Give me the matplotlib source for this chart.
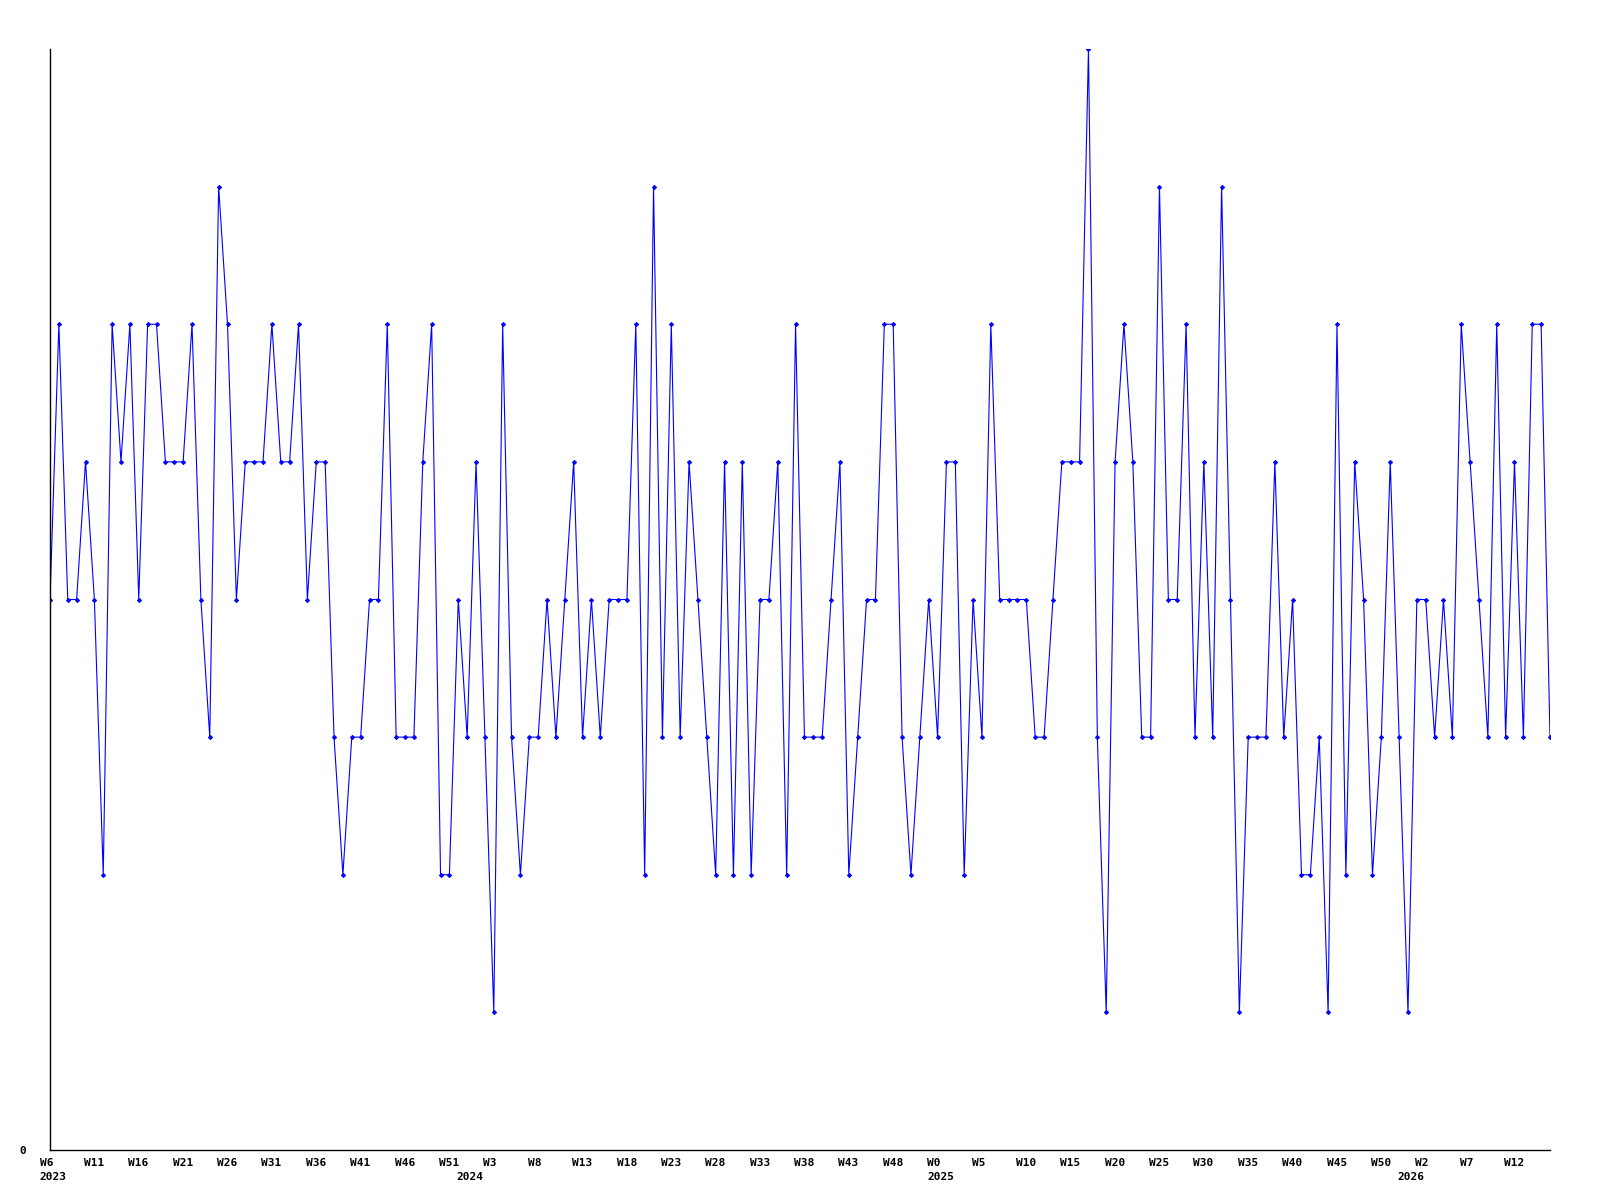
import matplotlib
matplotlib.use("Agg")
import matplotlib.pyplot as plt

# weekly values, W6 2023 .. W15 2026
values = [4, 6, 4, 4, 5, 4, 2, 6, 5, 6, 4, 6, 6, 5, 5, 5, 6, 4, 3, 7,
          6, 4, 5, 5, 5, 6, 5, 5, 6, 4, 5,
          5, 3, 2, 3, 3, 4, 4, 6, 3, 3, 3, 5, 6, 2, 2, 4, 3, 5, 3, 1,
          6, 3, 2, 3, 3, 4, 3, 4, 5, 3, 4, 3,
          4, 4, 4, 6, 2, 7, 3, 6, 3, 5, 4, 3, 2, 5, 2, 5, 2, 4, 4, 5,
          2, 6, 3, 3, 3, 4, 5, 2, 3, 4, 4,
          6, 6, 3, 2, 3, 4, 3, 5, 5, 2, 4, 3, 6, 4, 4, 4, 4, 3, 3, 4,
          5, 5, 5, 8, 3, 1, 5, 6, 5, 3, 3,
          7, 4, 4, 6, 3, 5, 3, 7, 4, 1, 3, 3, 3, 5, 3, 4, 2, 2, 3, 1,
          6, 2, 5, 4, 2, 3, 5, 3, 1, 4, 4, 3,
          4, 3, 6, 5, 4, 3, 6, 3, 5, 3, 6, 6, 3]

week_labels = ["W6", "W11", "W16", "W21", "W26", "W31", "W36", "W41", "W46",
               "W51", "W3", "W8", "W13", "W18", "W23", "W28", "W33", "W38",
               "W43", "W48", "W0", "W5", "W10", "W15", "W20", "W25", "W30",
               "W35", "W40", "W45", "W50", "W2", "W7", "W12"]
week_step = 5

years = ["2023", "2024", "2025", "2026"]
year_pos = [0, 47, 100, 153]

x = list(range(len(values)))

fig = plt.figure(figsize=(16, 12), dpi=100)
ax = fig.add_axes([50 / 1600, 50 / 1200, 1500 / 1600, 1101 / 1200])

ax.plot(x, values, color="#0000ff", linewidth=0.8, marker="D",
        markersize=2.2, markeredgewidth=0.6)

ax.set_xlim(0, len(values) - 1)
ax.set_ylim(0, 8)
ax.spines["top"].set_visible(False)
ax.spines["right"].set_visible(False)
ax.spines["left"].set_linewidth(1)
ax.spines["bottom"].set_linewidth(1)

font = dict(family="DejaVu Sans Mono", fontweight="bold", fontsize=8)

ax.set_yticks([0])
ax.set_yticklabels(["0"], **font)
ax.tick_params(axis="y", length=0, pad=17)
ax.set_xticks([])

for k, lab in enumerate(week_labels):
    ax.annotate(lab, xy=(k * week_step, 0), xycoords=("data", "axes fraction"),
                xytext=(-7.5, -9), textcoords="offset points",
                ha="left", va="center", **font)

for yr, p in zip(years, year_pos):
    ax.annotate(yr, xy=(p, 0), xycoords=("data", "axes fraction"),
                xytext=(-7.5, -19.5), textcoords="offset points",
                ha="left", va="center", **font)

fig.savefig("out.png", dpi=100)
